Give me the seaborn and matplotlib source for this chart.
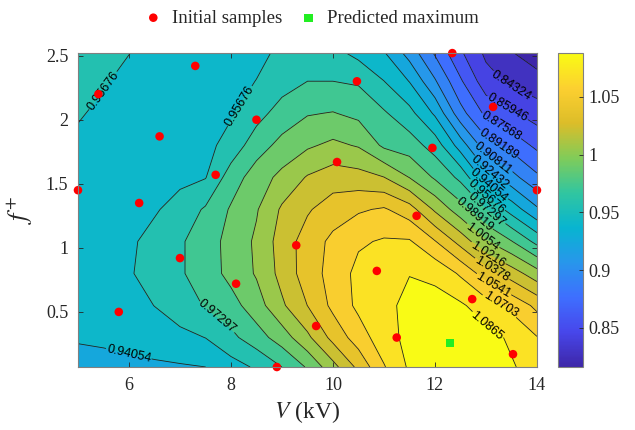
import numpy as np
import pandas as pd
import matplotlib
matplotlib.use("Agg")
import matplotlib.pyplot as plt
from matplotlib.colors import LinearSegmentedColormap, Normalize
from matplotlib.cm import ScalarMappable
import seaborn as sns

# ---------------- data ----------------
V_grid = [5.0, 5.5, 6.0, 6.5, 7.0, 7.5, 8.0, 8.5, 9.0, 9.5, 10.0,
          10.5, 11.0, 11.5, 12.0, 12.5, 13.0, 13.5, 14.0]
f_grid = [0.07, 0.3, 0.55, 0.8, 1.05, 1.3, 1.55, 1.8, 2.05, 2.3, 2.52]

Z_f007 = [0.935, 0.936, 0.937, 0.938, 0.939, 0.9405, 0.950, 0.959, 0.973, 0.991, 1.016, 1.042, 1.069, 1.089, 1.094, 1.095, 1.094, 1.088, 1.080]
Z_f030 = [0.942, 0.943, 0.945, 0.948, 0.952, 0.957, 0.969, 0.982, 0.997, 1.018, 1.043, 1.062, 1.080, 1.091, 1.095, 1.096, 1.092, 1.084, 1.071]
Z_f055 = [0.945, 0.946, 0.950, 0.957, 0.966, 0.974, 0.983, 0.998, 1.019, 1.038, 1.058, 1.074, 1.082, 1.091, 1.092, 1.089, 1.078, 1.066, 1.050]
Z_f080 = [0.946, 0.948, 0.955, 0.964, 0.971, 0.981, 0.994, 1.007, 1.027, 1.046, 1.060, 1.075, 1.083, 1.086, 1.083, 1.068, 1.046, 1.030, 1.012]
Z_f105 = [0.947, 0.949, 0.954, 0.962, 0.971, 0.981, 0.995, 1.008, 1.029, 1.045, 1.058, 1.068, 1.072, 1.072, 1.055, 1.032, 1.007, 0.990, 0.968]
Z_f130 = [0.948, 0.949, 0.951, 0.955, 0.963, 0.975, 0.991, 1.004, 1.024, 1.036, 1.046, 1.052, 1.056, 1.045, 1.019, 0.996, 0.973, 0.950, 0.927]
Z_f155 = [0.950, 0.950, 0.950, 0.951, 0.953, 0.956, 0.981, 0.997, 1.010, 1.023, 1.030, 1.028, 1.022, 1.005, 0.987, 0.969, 0.932, 0.914, 0.895]
Z_f180 = [0.954, 0.952, 0.950, 0.950, 0.951, 0.952, 0.963, 0.982, 0.994, 1.003, 1.009, 1.004, 0.986, 0.981, 0.966, 0.933, 0.899, 0.886, 0.872]
Z_f205 = [0.958, 0.954, 0.951, 0.950, 0.950, 0.950, 0.955, 0.967, 0.980, 0.988, 0.990, 0.985, 0.975, 0.962, 0.938, 0.898, 0.872, 0.862, 0.852]
Z_f230 = [0.961, 0.958, 0.953, 0.950, 0.949, 0.950, 0.953, 0.957, 0.966, 0.973, 0.973, 0.971, 0.957, 0.940, 0.910, 0.878, 0.850, 0.840, 0.833]
Z_f252 = [0.963, 0.960, 0.957, 0.953, 0.950, 0.949, 0.951, 0.954, 0.959, 0.964, 0.962, 0.952, 0.942, 0.918, 0.890, 0.862, 0.840, 0.828, 0.819]

sample_V = [5.0, 5.4, 7.3, 6.6, 7.7, 8.5, 6.2, 5.8, 7.0, 8.1, 8.9, 9.28,
            9.67, 10.86, 11.25, 10.08, 10.47, 11.95, 12.34, 13.14, 14.0,
            11.64, 12.73, 13.53]
sample_f = [1.45, 2.2, 2.42, 1.87, 1.57, 2.0, 1.35, 0.5, 0.92, 0.72, 0.07,
            1.02, 0.39, 0.82, 0.3, 1.67, 2.3, 1.78, 2.52, 2.1, 1.45,
            1.25, 0.6, 0.17]
pred_V = [12.3]
pred_f = [0.26]

contour_levels = [0.827027, 0.843243, 0.859459, 0.875676, 0.891892,
                  0.908108, 0.924324, 0.940541, 0.956757, 0.972973,
                  0.989189, 1.005405, 1.021622, 1.037838, 1.054054,
                  1.070270, 1.086486]
cbar_ticks = [0.85, 0.9, 0.95, 1.0, 1.05]
cbar_ticklabels = ["0.85", "0.9", "0.95", "1", "1.05"]
x_ticks = [6, 8, 10, 12, 14]
y_ticks = [0.5, 1.0, 1.5, 2.0, 2.5]
y_ticklabels = ["0.5", "1", "1.5", "2", "2.5"]

# label anchor points per level (layout only)
label_spots = {
    0.843243: [(13.4, 2.2)],
    0.859459: [(13.32, 2.02)],
    0.875676: [(13.26, 1.92)],
    0.891892: [(13.2, 1.78)],
    0.908108: [(13.12, 1.68)],
    0.924324: [(13.07, 1.58)],
    0.940541: [(13.03, 1.47), (6.0, 0.18)],
    0.956757: [(13.0, 1.40), (5.6, 2.2), (8.2, 2.1)],
    0.972973: [(13.05, 1.32), (7.7, 0.45)],
    0.989189: [(12.8, 1.27)],
    1.005405: [(12.96, 1.10)],
    1.021622: [(13.02, 0.94)],
    1.037838: [(13.1, 0.82)],
    1.054054: [(13.12, 0.69)],
    1.070270: [(13.24, 0.52)],
    1.086486: [(13.0, 0.38)],
}

# ---------------- style ----------------
sns.set_theme(style="white")
plt.rcParams["font.family"] = ["Liberation Serif", "DejaVu Serif"]
plt.rcParams["mathtext.fontset"] = "stix"
plt.rcParams["axes.axisbelow"] = False

parula = LinearSegmentedColormap.from_list("parula", [
    (0.2422, 0.1504, 0.6603), (0.2803, 0.2782, 0.9221),
    (0.2440, 0.4358, 0.9988), (0.1540, 0.5902, 0.9218),
    (0.0297, 0.7082, 0.8163), (0.1938, 0.7758, 0.6251),
    (0.5044, 0.7993, 0.3480), (0.8634, 0.7406, 0.1596),
    (0.9892, 0.8136, 0.1885), (0.9769, 0.9839, 0.0805)])
clim = (0.816, 1.088)

Z = np.array([Z_f007, Z_f030, Z_f055, Z_f080, Z_f105, Z_f130,
              Z_f155, Z_f180, Z_f205, Z_f230, Z_f252])
VV, FF = np.meshgrid(V_grid, f_grid)

fig = plt.figure(figsize=(6.35, 4.3), dpi=100)
ax = fig.add_axes([0.1228, 0.1465, 0.7228, 0.730])
cax = fig.add_axes([0.8787, 0.1465, 0.0394, 0.730])

step = contour_levels[1] - contour_levels[0]
fill_levels = [0.79] + contour_levels + [1.12]
norm_fill = Normalize(vmin=clim[0] + step / 2, vmax=clim[1] + step / 2)
ax.contourf(VV, FF, Z, levels=fill_levels, cmap=parula, norm=norm_fill)

for lev in contour_levels:
    cs = ax.contour(VV, FF, Z, levels=[lev], colors="#222222",
                    linewidths=0.6)
    spots = label_spots.get(lev)
    if spots:
        try:
            txts = ax.clabel(cs, manual=spots, inline=True, inline_spacing=3,
                             fmt=lambda v: f"{v:.5g}", fontsize=9,
                             colors="black")
            for t in txts:
                t.set_family(["Liberation Sans", "DejaVu Sans"])
        except Exception:
            pass

sns.scatterplot(x=sample_V, y=sample_f, ax=ax, color="#ff0000", s=38,
                edgecolor="none", label="Initial samples", clip_on=False,
                zorder=6)
sns.scatterplot(x=pred_V, y=pred_f, ax=ax, color="#22ee22", marker="s",
                s=34, edgecolor="none", label="Predicted maximum",
                clip_on=False, zorder=6)

ax.set_axisbelow(False)
ax.set_xlim(5, 14)
ax.set_ylim(0.07, 2.52)
ax.set_xticks(x_ticks)
ax.set_xticklabels([str(t) for t in x_ticks])
ax.set_yticks(y_ticks)
ax.set_yticklabels(y_ticklabels)
ax.tick_params(direction="in", length=3.5, width=0.6, top=True, right=True,
               bottom=True, left=True, labelsize=13, colors="#262626",
               pad=7)
for sp in ax.spines.values():
    sp.set_color("#808080")
    sp.set_linewidth(0.8)
    sp.set_zorder(7)
ax.set_xlabel(r"$V$ (kV)", fontsize=17, color="#262626", labelpad=4)
ax.set_ylabel(r"$f^{+}$", fontsize=19, color="#262626", labelpad=8)

handles, labels = ax.get_legend_handles_labels()
ax.get_legend().remove()
fig.legend(handles, labels, loc="center", bbox_to_anchor=(0.492, 0.958),
           ncol=2, frameon=False, fontsize=13.5, handletextpad=0.6,
           columnspacing=1.0, handlelength=0.8)

cb = fig.colorbar(ScalarMappable(norm=Normalize(*clim), cmap=parula), cax=cax)
cb.set_ticks(cbar_ticks)
cb.set_ticklabels(cbar_ticklabels)
cb.outline.set_edgecolor("#808080")
cb.outline.set_linewidth(0.8)
cax.set_axisbelow(False)
cax.tick_params(direction="in", length=3, width=0.6, labelsize=13,
                right=True, colors="#262626", pad=4)

fig.savefig("out.png", dpi=100)
